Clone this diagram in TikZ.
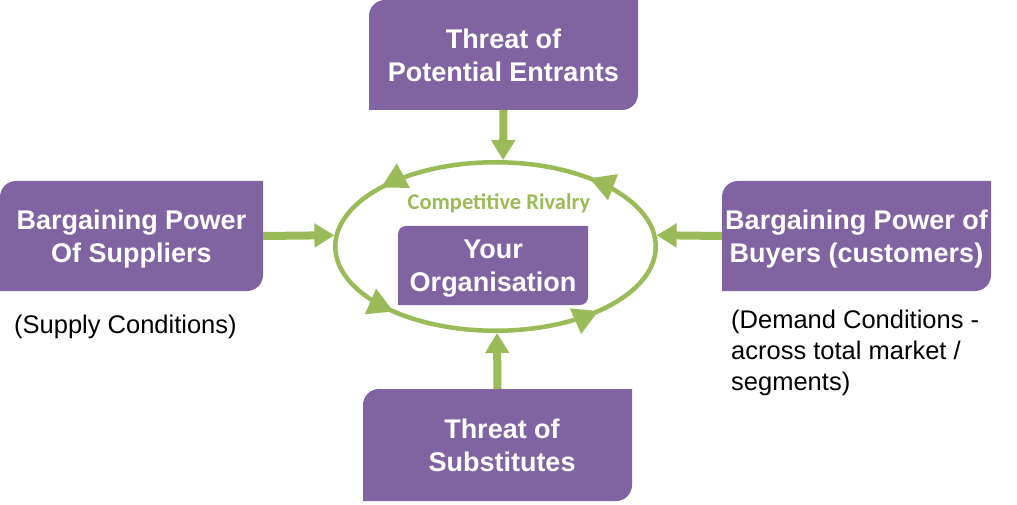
\documentclass[tikz,border=0pt]{standalone}
\usepackage{fontspec}
\setmainfont{Liberation Sans}
\newfontfamily\rivfont{Carlito}
\usetikzlibrary{arrows.meta,decorations.markings,shapes.geometric,calc}
\definecolor{purp}{HTML}{8064A2}
\definecolor{grn}{HTML}{9BBB59}
\newcommand\rivhead{\fill[grn] (0pt,0pt) -- (-25pt,14pt) -- (-25pt,-14pt) -- cycle;}
\tikzset{
  forcebox/.style={rectangle, inner sep=0pt, outer sep=0pt, fill=white, text=white, align=center,
    text depth=0pt,
    font=\fontsize{27}{33.5}\selectfont\bfseries,
    path picture={\fill[purp] (path picture bounding box.south west)
      -- ([yshift=-#1]path picture bounding box.north west)
      arc[start angle=180,end angle=90,radius=#1]
      -- (path picture bounding box.north east)
      -- ([yshift=#1]path picture bounding box.south east)
      arc[start angle=0,end angle=-90,radius=#1] -- cycle;}},
  forcebox/.default=16pt,
  force/.style={draw=grn, line width=8pt, -{Triangle[length=20pt,width=23pt]}},
  rivline/.style={draw=grn, line width=4.5pt,
    decoration={markings,
      mark=at position 0.128 with {\rivhead},
      mark=at position 0.400 with {\rivhead},
      mark=at position 0.617 with {\rivhead},
      mark=at position 0.884 with {\rivhead}},
    postaction={decorate}},
  note/.style={inner sep=0pt, align=left, anchor=west, font=\fontsize{25.5}{31}\selectfont},
}
\begin{document}
\begin{tikzpicture}[x=1pt,y=1pt]
\useasboundingbox (0,0) rectangle (1017,504);
\node[forcebox, minimum width=269pt, minimum height=110pt] (top) at (503.5,449) {Threat of\\Potential Entrants};
\node[forcebox, minimum width=263pt, minimum height=110pt] (sup) at (131.5,268) {Bargaining Power\\Of Suppliers};
\node[forcebox, minimum width=269pt, minimum height=110pt] (buy) at (856.5,268) {Bargaining Power of\\Buyers (customers)};
\node[forcebox, minimum width=269pt, minimum height=112pt] (sub) at (497.5,59) {\hspace*{9pt}Threat of\\\hspace*{9pt}Substitutes};
\node[forcebox=8pt, minimum width=190pt, minimum height=79pt] (org) at (493,238.5) {Your\\Organisation};
\node[ellipse, minimum width=325pt, minimum height=173pt, inner sep=0pt, outer sep=0pt] (riv) at (495.5,257.5) {};
\draw[rivline] (riv.center) ellipse[x radius=160.25pt, y radius=84.25pt];
\node[font=\rivfont\bfseries\fontsize{22.5}{26}\selectfont, text=grn] (cr) at (499,301) {Competitive Rivalry};
\draw[force] (top.south) -- (riv.85);
\draw[force] (sup.east) -- (riv.176);
\draw[force] (buy.west) -- (riv.4);
\draw[force] (sub.north) -- (riv.271.3);
\node[note] (sc) at (14,177) {(Supply Conditions)};
\node[note] (dc) at (731,151) {(Demand Conditions -\\across total market /\\segments)};
\end{tikzpicture}
\end{document}
